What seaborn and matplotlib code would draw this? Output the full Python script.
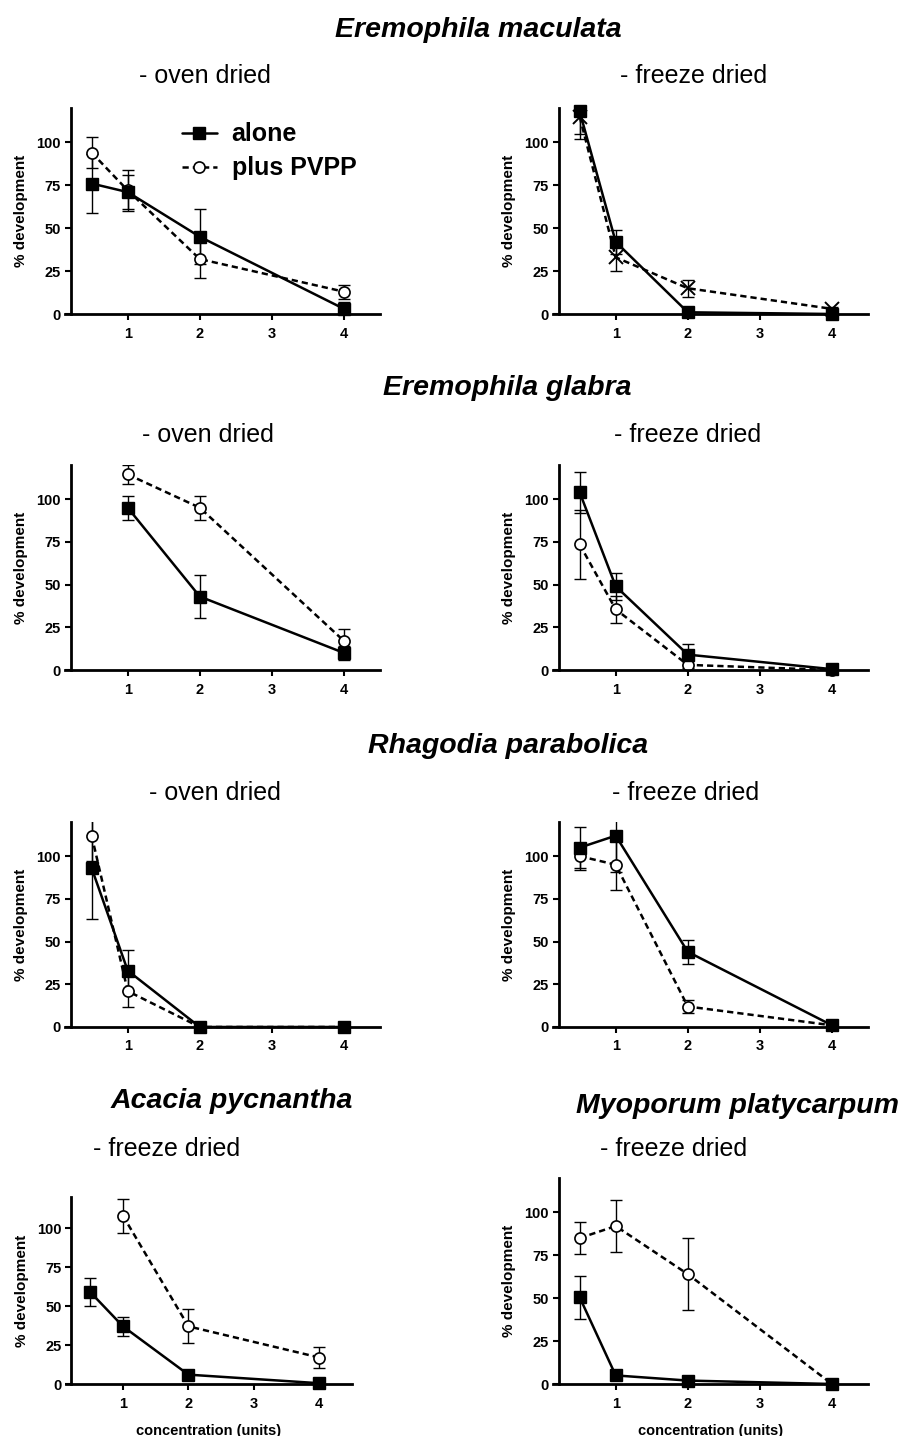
import matplotlib
matplotlib.use("Agg")
import matplotlib.pyplot as plt
import seaborn as sns
import pandas as pd

# concentrations (units)
conc = [0.5, 1, 2, 4]
conc_no_half = [1, 2, 4]

# Eremophila maculata - oven dried
em_oven_alone = [76, 71, 45, 3]
em_oven_alone_err = [17, 10, 16, 4]
em_oven_plus = [94, 72, 32, 13]
em_oven_plus_err = [9, 12, 11, 4]

# Eremophila maculata - freeze dried
em_frz_alone = [118, 42, 1, 0]
em_frz_alone_err = [13, 7, 1, 0]
em_frz_plus = [115, 33, 15, 3]
em_frz_plus_err = [13, 8, 5, 1]

# Eremophila glabra - oven dried (no 0.5 dose)
eg_oven_alone = [95, 43, 10]
eg_oven_alone_err = [7, 12.5, 4]
eg_oven_plus = [114.5, 95, 17]
eg_oven_plus_err = [5.5, 7, 7]

# Eremophila glabra - freeze dried
eg_frz_alone = [104, 49, 9, 0.5]
eg_frz_alone_err = [12, 8, 6, 1]
eg_frz_plus = [73.5, 35.5, 3, 0]
eg_frz_plus_err = [20, 8, 2, 0.5]

# Rhagodia parabolica - oven dried
rp_oven_alone = [93, 33, 0, 0]
rp_oven_alone_err = [30, 12, 0.5, 0.5]
rp_oven_plus = [112, 21, 0, 0]
rp_oven_plus_err = [15, 9, 0.5, 0.5]

# Rhagodia parabolica - freeze dried
rp_frz_alone = [105, 112, 44, 1]
rp_frz_alone_err = [12, 21, 7, 1]
rp_frz_plus = [100, 95, 12, 1]
rp_frz_plus_err = [8, 15, 4, 1]

# Acacia pycnantha - freeze dried (plus PVPP has no 0.5 dose)
ap_frz_alone = [59, 37, 6, 0.5]
ap_frz_alone_err = [9, 6, 2, 1]
ap_frz_plus = [108, 37, 17]
ap_frz_plus_err = [11, 11, 7]

# Myoporum platycarpum - freeze dried
mp_frz_alone = [50.5, 5, 2, 0]
mp_frz_alone_err = [12.5, 1, 1, 0.5]
mp_frz_plus = [85, 92, 64, 0]
mp_frz_plus_err = [9.5, 15, 21, 1]

sns.set_style("ticks")
plt.rcParams["font.family"] = ["Liberation Sans", "DejaVu Sans"]
plt.rcParams.update({
    "text.color": "black",
    "axes.labelcolor": "black",
    "axes.edgecolor": "black",
    "xtick.color": "black",
    "ytick.color": "black",
})

W, H = 906, 1436
fig = plt.figure(figsize=(W / 100, H / 100), dpi=100)


def px_box(left, top, right, bottom):
    return [left / W, 1 - bottom / H, (right - left) / W, (bottom - top) / H]


def draw_panel(box, x_a, alone, alone_err, x_p, plus, plus_err,
               plus_marker="o", xlabel=False):
    ax = fig.add_axes(box)
    ax.errorbar(x_a, alone, yerr=alone_err, fmt="none", ecolor="black",
                elinewidth=1, capsize=4.5, capthick=1, zorder=1)
    ax.errorbar(x_p, plus, yerr=plus_err, fmt="none", ecolor="black",
                elinewidth=1, capsize=4.5, capthick=1, zorder=1)
    if plus_marker == "o":
        pkw = dict(marker="o", ms=8, mfc="white", mec="black", mew=1.2)
    else:
        pkw = dict(marker="x", ms=10, mec="black", mew=1.4)
    sns.lineplot(x=x_p, y=plus, ax=ax, color="black", lw=1.8,
                 linestyle=(0, (2.5, 1.6)), errorbar=None, clip_on=False,
                 zorder=2, **pkw)
    l_plus = ax.lines[-1]
    sns.lineplot(x=x_a, y=alone, ax=ax, color="black", lw=1.8, marker="s",
                 ms=8, mfc="black", mec="black", mew=1, errorbar=None,
                 clip_on=False, zorder=3)
    l_alone = ax.lines[-1]

    ax.set_xlim(0.13, 4.5)
    ax.set_ylim(0, 120)
    ax.spines["left"].set_position(("data", 0.21))
    ax.spines["right"].set_visible(False)
    ax.spines["top"].set_visible(False)
    for s in ("left", "bottom"):
        ax.spines[s].set_linewidth(2)
        ax.spines[s].set_color("black")
    ax.set_xticks([1, 2, 3, 4])
    ax.set_yticks([0, 25, 50, 75, 100])
    ax.tick_params(direction="out", length=4, width=1.5, labelsize=10.5,
                   pad=3, colors="black")
    ax.tick_params(axis="x", pad=5)
    for lab in ax.get_xticklabels() + ax.get_yticklabels():
        lab.set_fontweight("bold")
    ax.set_ylabel("% development", fontsize=11, fontweight="bold",
                  labelpad=6)
    if xlabel:
        ax.set_xlabel("concentration (units)", fontsize=10.5,
                      fontweight="bold", labelpad=10)
    else:
        ax.set_xlabel("")
    return ax, l_alone, l_plus


ax1, la, lp = draw_panel(px_box(65, 108, 380, 314), conc, em_oven_alone,
                         em_oven_alone_err, conc, em_oven_plus,
                         em_oven_plus_err)
ax1.legend([la, lp], ["alone", "plus PVPP"], loc="upper left",
           bbox_to_anchor=(0.37, 0.93), frameon=False, borderpad=0,
           borderaxespad=0, handlelength=1.4, handletextpad=0.6,
           labelspacing=0.4, prop={"size": 18, "weight": "bold"})

draw_panel(px_box(553, 108, 868, 314), conc, em_frz_alone, em_frz_alone_err,
           conc, em_frz_plus, em_frz_plus_err, plus_marker="x")
draw_panel(px_box(65, 465, 380, 670), conc_no_half, eg_oven_alone,
           eg_oven_alone_err, conc_no_half, eg_oven_plus, eg_oven_plus_err)
draw_panel(px_box(553, 465, 868, 670), conc, eg_frz_alone, eg_frz_alone_err,
           conc, eg_frz_plus, eg_frz_plus_err)
draw_panel(px_box(65, 822, 380, 1027), conc, rp_oven_alone, rp_oven_alone_err,
           conc, rp_oven_plus, rp_oven_plus_err)
draw_panel(px_box(553, 822, 868, 1027), conc, rp_frz_alone, rp_frz_alone_err,
           conc, rp_frz_plus, rp_frz_plus_err)
draw_panel(px_box(66, 1197, 352, 1384), conc, ap_frz_alone, ap_frz_alone_err,
           conc_no_half, ap_frz_plus, ap_frz_plus_err, xlabel=True)
draw_panel(px_box(553, 1178, 868, 1384), conc, mp_frz_alone, mp_frz_alone_err,
           conc, mp_frz_plus, mp_frz_plus_err, xlabel=True)


def ftext(x, y, s, **kw):
    fig.text(x / W, 1 - y / H, s, ha="center", va="baseline", **kw)


title_kw = dict(fontsize=20.5, fontweight="bold", fontstyle="italic")
sub_kw = dict(fontsize=18)

ftext(478, 37, "Eremophila maculata", **title_kw)
ftext(205, 83, "- oven dried", **sub_kw)
ftext(694, 83, "- freeze dried", **sub_kw)

ftext(507, 395, "Eremophila glabra", **title_kw)
ftext(208, 442, "- oven dried", **sub_kw)
ftext(688, 442, "- freeze dried", **sub_kw)

ftext(508, 753, "Rhagodia parabolica", **title_kw)
ftext(215, 800, "- oven dried", **sub_kw)
ftext(686, 800, "- freeze dried", **sub_kw)

ftext(232, 1108, "Acacia pycnantha", **title_kw)
ftext(737, 1113, "Myoporum platycarpum", **title_kw)
ftext(167, 1156, "- freeze dried", **sub_kw)
ftext(674, 1156, "- freeze dried", **sub_kw)

fig.savefig("out.png", dpi=100)
